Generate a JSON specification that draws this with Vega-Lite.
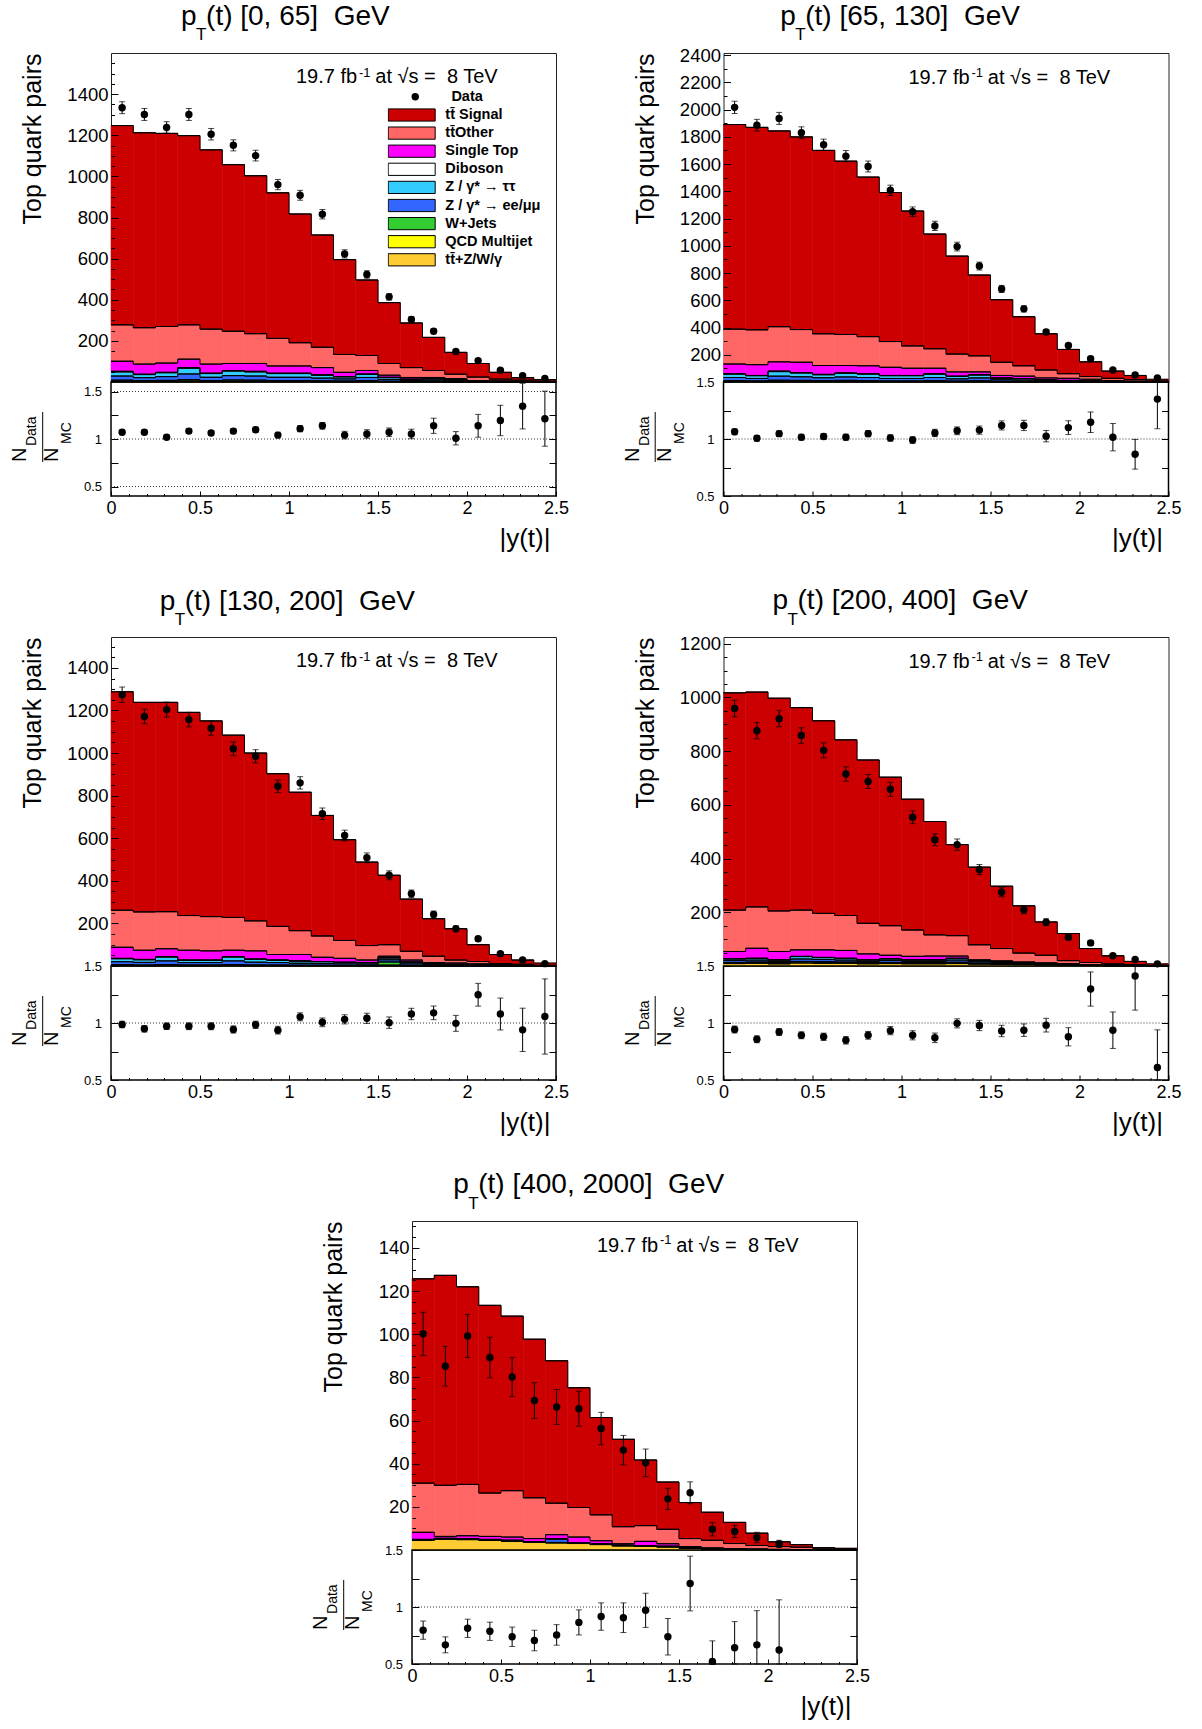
{
"$schema": "https://vega.github.io/schema/vega-lite/v6.json",
"background": "white",
"padding": {"left": 9, "top": 2, "right": 5, "bottom": 3},
"config": {
 "font": "Liberation Sans",
 "view": {"stroke": "#222", "strokeWidth": 1},
 "axis": {"domain": false, "grid": false, "tickColor": "black", "labelColor": "black", "titleColor": "black", "titleFontWeight": "normal", "tickWidth": 1, "tickCount": 100},
 "legend": {"labelColor": "black"},
 "text": {"color": "black"}
},
"datasets": {
 "p1": [
{"c":0.0625,"s":969,"o":177,"st":49,"db":3,"zt":20,"zl":20,"w":5,"q":2,"v":2,"d":1334,"de":29,"r":1.071,"re":0.025},
{"c":0.1875,"s":948,"o":177,"st":49,"db":2,"zt":15,"zl":14,"w":4,"q":1,"v":2,"d":1301,"de":29,"r":1.071,"re":0.025},
{"c":0.3125,"s":939,"o":178,"st":45,"db":2,"zt":19,"zl":18,"w":5,"q":1,"v":2,"d":1238,"de":28,"r":1.019,"re":0.025},
{"c":0.4375,"s":920,"o":167,"st":41,"db":3,"zt":28,"zl":27,"w":7,"q":2,"v":3,"d":1301,"de":29,"r":1.083,"re":0.025},
{"c":0.5625,"s":872,"o":170,"st":44,"db":2,"zt":18,"zl":16,"w":4,"q":1,"v":2,"d":1205,"de":28,"r":1.064,"re":0.025},
{"c":0.6875,"s":810,"o":157,"st":34,"db":3,"zt":22,"zl":21,"w":6,"q":2,"v":2,"d":1151,"de":27,"r":1.083,"re":0.027},
{"c":0.8125,"s":768,"o":145,"st":38,"db":3,"zt":20,"zl":20,"w":5,"q":2,"v":2,"d":1101,"de":26,"r":1.098,"re":0.028},
{"c":0.9375,"s":708,"o":134,"st":35,"db":2,"zt":18,"zl":16,"w":4,"q":1,"v":2,"d":960,"de":25,"r":1.041,"re":0.03},
{"c":1.0625,"s":626,"o":113,"st":35,"db":2,"zt":18,"zl":16,"w":4,"q":1,"v":2,"d":908,"de":24,"r":1.109,"re":0.032},
{"c":1.1875,"s":546,"o":99,"st":35,"db":2,"zt":14,"zl":13,"w":4,"q":1,"v":1,"d":816,"de":23,"r":1.139,"re":0.035},
{"c":1.3125,"s":461,"o":87,"st":21,"db":1,"zt":10,"zl":10,"w":3,"q":1,"v":1,"d":623,"de":20,"r":1.041,"re":0.04},
{"c":1.4375,"s":367,"o":73,"st":17,"db":2,"zt":15,"zl":15,"w":4,"q":1,"v":2,"d":523,"de":18,"r":1.053,"re":0.045},
{"c":1.5625,"s":296,"o":57,"st":10,"db":1,"zt":9,"zl":9,"w":2,"q":1,"v":1,"d":414,"de":16,"r":1.071,"re":0.045},
{"c":1.6875,"s":217,"o":48,"st":8,"db":1,"zt":6,"zl":5,"w":1,"q":0,"v":1,"d":304,"de":14,"r":1.053,"re":0.05},
{"c":1.8125,"s":161,"o":34,"st":6,"db":1,"zt":6,"zl":6,"w":2,"q":0,"v":1,"d":247,"de":12,"r":1.139,"re":0.08},
{"c":1.9375,"s":106,"o":21,"st":5,"db":1,"zt":5,"zl":5,"w":1,"q":0,"v":0,"d":148,"de":10,"r":1.008,"re":0.07},
{"c":2.0625,"s":66,"o":17,"st":2,"db":0,"zt":2,"zl":2,"w":1,"q":0,"v":0,"d":104,"de":8,"r":1.139,"re":0.12},
{"c":2.1875,"s":33,"o":9,"st":2,"db":0,"zt":2,"zl":1,"w":0,"q":0,"v":0,"d":57,"de":6,"r":1.195,"re":0.16},
{"c":2.3125,"s":12,"o":6,"st":1,"db":0,"zt":1,"zl":1,"w":0,"q":0,"v":0,"d":31,"de":5,"r":1.346,"re":0.24},
{"c":2.4375,"s":7,"o":3,"st":1,"db":0,"zt":1,"zl":0,"w":0,"q":0,"v":0,"d":17,"de":4,"r":1.214,"re":0.29}
 ],
 "p2": [
{"c":0.0625,"s":1502,"o":256,"st":71,"db":3,"zt":25,"zl":23,"w":6,"q":2,"v":2,"d":2016,"de":45,"r":1.063,"re":0.025},
{"c":0.1875,"s":1486,"o":256,"st":79,"db":2,"zt":20,"zl":18,"w":5,"q":1,"v":2,"d":1885,"de":43,"r":1.006,"re":0.025},
{"c":0.3125,"s":1437,"o":258,"st":68,"db":4,"zt":33,"zl":30,"w":8,"q":2,"v":3,"d":1935,"de":44,"r":1.047,"re":0.025},
{"c":0.4375,"s":1414,"o":240,"st":76,"db":3,"zt":28,"zl":26,"w":7,"q":2,"v":3,"d":1830,"de":43,"r":1.016,"re":0.025},
{"c":0.5625,"s":1346,"o":233,"st":65,"db":3,"zt":22,"zl":21,"w":6,"q":2,"v":2,"d":1741,"de":42,"r":1.022,"re":0.025},
{"c":0.6875,"s":1272,"o":228,"st":54,"db":3,"zt":27,"zl":25,"w":7,"q":2,"v":3,"d":1658,"de":41,"r":1.016,"re":0.026},
{"c":0.8125,"s":1171,"o":214,"st":58,"db":3,"zt":25,"zl":23,"w":6,"q":2,"v":2,"d":1582,"de":40,"r":1.047,"re":0.027},
{"c":0.9375,"s":1094,"o":189,"st":60,"db":2,"zt":20,"zl":18,"w":5,"q":1,"v":2,"d":1407,"de":38,"r":1.009,"re":0.028},
{"c":1.0625,"s":990,"o":164,"st":53,"db":2,"zt":20,"zl":18,"w":5,"q":1,"v":2,"d":1250,"de":35,"r":0.991,"re":0.029},
{"c":1.1875,"s":842,"o":143,"st":40,"db":3,"zt":25,"zl":23,"w":6,"q":2,"v":2,"d":1146,"de":34,"r":1.053,"re":0.032},
{"c":1.3125,"s":719,"o":131,"st":31,"db":2,"zt":18,"zl":16,"w":4,"q":1,"v":2,"d":994,"de":32,"r":1.072,"re":0.034},
{"c":1.4375,"s":593,"o":118,"st":20,"db":3,"zt":21,"zl":21,"w":5,"q":2,"v":2,"d":851,"de":29,"r":1.078,"re":0.036},
{"c":1.5625,"s":459,"o":97,"st":18,"db":2,"zt":12,"zl":11,"w":3,"q":1,"v":1,"d":683,"de":26,"r":1.119,"re":0.04},
{"c":1.6875,"s":360,"o":76,"st":18,"db":1,"zt":10,"zl":9,"w":3,"q":1,"v":1,"d":537,"de":23,"r":1.119,"re":0.045},
{"c":1.8125,"s":266,"o":58,"st":12,"db":1,"zt":6,"zl":7,"w":2,"q":1,"v":1,"d":367,"de":19,"r":1.025,"re":0.05},
{"c":1.9375,"s":178,"o":34,"st":15,"db":1,"zt":5,"zl":5,"w":1,"q":0,"v":0,"d":268,"de":16,"r":1.1,"re":0.06},
{"c":2.0625,"s":108,"o":20,"st":12,"db":0,"zt":4,"zl":3,"w":1,"q":0,"v":0,"d":171,"de":13,"r":1.147,"re":0.09},
{"c":2.1875,"s":53,"o":17,"st":5,"db":0,"zt":2,"zl":2,"w":1,"q":0,"v":0,"d":88,"de":9,"r":1.016,"re":0.12},
{"c":2.3125,"s":31,"o":11,"st":3,"db":0,"zt":2,"zl":1,"w":0,"q":0,"v":0,"d":51,"de":7,"r":0.866,"re":0.13},
{"c":2.4375,"s":11,"o":6,"st":1,"db":0,"zt":1,"zl":1,"w":0,"q":0,"v":0,"d":30,"de":5,"r":1.35,"re":0.26}
 ],
 "p3": [
{"c":0.0625,"s":1026,"o":174,"st":52,"db":2,"zt":14,"zl":13,"w":4,"q":1,"v":2,"d":1274,"de":36,"r":0.987,"re":0.028},
{"c":0.1875,"s":984,"o":180,"st":43,"db":2,"zt":12,"zl":12,"w":3,"q":1,"v":1,"d":1172,"de":34,"r":0.949,"re":0.028},
{"c":0.3125,"s":983,"o":174,"st":37,"db":2,"zt":18,"zl":17,"w":4,"q":1,"v":2,"d":1204,"de":35,"r":0.971,"re":0.028},
{"c":0.4375,"s":954,"o":163,"st":46,"db":1,"zt":11,"zl":11,"w":3,"q":1,"v":1,"d":1157,"de":34,"r":0.971,"re":0.029},
{"c":0.5625,"s":919,"o":161,"st":43,"db":1,"zt":11,"zl":11,"w":3,"q":1,"v":1,"d":1117,"de":33,"r":0.971,"re":0.03},
{"c":0.6875,"s":856,"o":154,"st":30,"db":2,"zt":18,"zl":17,"w":4,"q":1,"v":2,"d":1020,"de":32,"r":0.943,"re":0.031},
{"c":0.8125,"s":788,"o":141,"st":38,"db":2,"zt":13,"zl":13,"w":3,"q":1,"v":1,"d":985,"de":31,"r":0.984,"re":0.032},
{"c":0.9375,"s":717,"o":132,"st":26,"db":1,"zt":11,"zl":11,"w":3,"q":1,"v":1,"d":844,"de":29,"r":0.937,"re":0.034},
{"c":1.0625,"s":650,"o":112,"st":30,"db":1,"zt":10,"zl":9,"w":2,"q":1,"v":1,"d":860,"de":29,"r":1.054,"re":0.035},
{"c":1.1875,"s":566,"o":100,"st":20,"db":1,"zt":8,"zl":8,"w":2,"q":1,"v":1,"d":715,"de":27,"r":1.006,"re":0.038},
{"c":1.3125,"s":473,"o":84,"st":18,"db":1,"zt":7,"zl":7,"w":2,"q":0,"v":1,"d":613,"de":25,"r":1.032,"re":0.04},
{"c":1.4375,"s":392,"o":68,"st":12,"db":1,"zt":6,"zl":6,"w":2,"q":0,"v":1,"d":508,"de":23,"r":1.041,"re":0.045},
{"c":1.5625,"s":326,"o":54,"st":6,"db":3,"zt":8,"zl":10,"w":15,"q":2,"v":2,"d":426,"de":21,"r":1.003,"re":0.05},
{"c":1.6875,"s":245,"o":41,"st":9,"db":1,"zt":8,"zl":7,"w":2,"q":0,"v":1,"d":339,"de":18,"r":1.079,"re":0.05},
{"c":1.8125,"s":176,"o":30,"st":4,"db":1,"zt":5,"zl":5,"w":1,"q":0,"v":0,"d":242,"de":16,"r":1.089,"re":0.06},
{"c":1.9375,"s":147,"o":14,"st":6,"db":0,"zt":4,"zl":3,"w":1,"q":0,"v":0,"d":175,"de":13,"r":0.997,"re":0.07},
{"c":2.0625,"s":79,"o":11,"st":4,"db":0,"zt":3,"zl":2,"w":1,"q":0,"v":0,"d":128,"de":11,"r":1.248,"re":0.1},
{"c":2.1875,"s":43,"o":5,"st":2,"db":0,"zt":2,"zl":2,"w":0,"q":0,"v":0,"d":58,"de":8,"r":1.079,"re":0.14},
{"c":2.3125,"s":20,"o":4,"st":2,"db":0,"zt":1,"zl":1,"w":0,"q":0,"v":0,"d":28,"de":5,"r":0.94,"re":0.19},
{"c":2.4375,"s":10,"o":2,"st":1,"db":0,"zt":1,"zl":0,"w":0,"q":0,"v":0,"d":11,"de":3,"r":1.057,"re":0.33}
 ],
 "p4": [
{"c":0.0625,"s":809,"o":154,"st":27,"db":1,"zt":6,"zl":7,"w":1,"q":3,"v":9,"d":959,"de":31,"r":0.943,"re":0.03},
{"c":0.1875,"s":800,"o":154,"st":37,"db":1,"zt":6,"zl":7,"w":2,"q":3,"v":10,"d":876,"de":30,"r":0.857,"re":0.03},
{"c":0.3125,"s":792,"o":151,"st":31,"db":1,"zt":5,"zl":5,"w":1,"q":3,"v":8,"d":921,"de":30,"r":0.921,"re":0.03},
{"c":0.4375,"s":754,"o":148,"st":24,"db":1,"zt":9,"zl":9,"w":2,"q":4,"v":11,"d":858,"de":29,"r":0.892,"re":0.03},
{"c":0.5625,"s":717,"o":136,"st":28,"db":1,"zt":7,"zl":8,"w":2,"q":4,"v":10,"d":803,"de":28,"r":0.879,"re":0.032},
{"c":0.6875,"s":654,"o":130,"st":29,"db":1,"zt":6,"zl":7,"w":2,"q":3,"v":10,"d":715,"de":27,"r":0.848,"re":0.033},
{"c":0.8125,"s":608,"o":114,"st":22,"db":1,"zt":5,"zl":5,"w":1,"q":3,"v":8,"d":687,"de":26,"r":0.892,"re":0.034},
{"c":0.9375,"s":553,"o":110,"st":13,"db":1,"zt":6,"zl":7,"w":1,"q":3,"v":9,"d":658,"de":26,"r":0.933,"re":0.036},
{"c":1.0625,"s":487,"o":98,"st":13,"db":1,"zt":5,"zl":5,"w":1,"q":3,"v":8,"d":554,"de":24,"r":0.892,"re":0.04},
{"c":1.1875,"s":422,"o":79,"st":14,"db":1,"zt":5,"zl":5,"w":1,"q":3,"v":8,"d":470,"de":22,"r":0.87,"re":0.042},
{"c":1.3125,"s":339,"o":76,"st":8,"db":1,"zt":6,"zl":8,"w":2,"q":3,"v":9,"d":452,"de":21,"r":0.997,"re":0.04},
{"c":1.4375,"s":289,"o":56,"st":3,"db":1,"zt":4,"zl":5,"w":1,"q":2,"v":7,"d":359,"de":19,"r":0.978,"re":0.045},
{"c":1.5625,"s":232,"o":46,"st":2,"db":1,"zt":3,"zl":4,"w":1,"q":2,"v":6,"d":275,"de":17,"r":0.93,"re":0.05},
{"c":1.6875,"s":176,"o":33,"st":2,"db":0,"zt":3,"zl":3,"w":1,"q":1,"v":5,"d":209,"de":14,"r":0.937,"re":0.055},
{"c":1.8125,"s":124,"o":29,"st":1,"db":0,"zt":2,"zl":2,"w":1,"q":1,"v":4,"d":163,"de":13,"r":0.981,"re":0.06},
{"c":1.9375,"s":101,"o":12,"st":0,"db":0,"zt":1,"zl":2,"w":1,"q":1,"v":3,"d":107,"de":10,"r":0.879,"re":0.08},
{"c":2.0625,"s":52,"o":8,"st":0,"db":0,"zt":1,"zl":1,"w":1,"q":0,"v":2,"d":86,"de":9,"r":1.298,"re":0.15},
{"c":2.1875,"s":30,"o":5,"st":0,"db":0,"zt":1,"zl":1,"w":0,"q":0,"v":1,"d":38,"de":6,"r":0.937,"re":0.16},
{"c":2.3125,"s":12,"o":3,"st":0,"db":0,"zt":0,"zl":1,"w":0,"q":0,"v":1,"d":24,"de":5,"r":1.413,"re":0.3},
{"c":2.4375,"s":5,"o":2,"st":0,"db":0,"zt":0,"zl":0,"w":0,"q":0,"v":1,"d":8,"de":3,"r":0.61,"re":0.33}
 ],
 "p5": [
{"c":0.0625,"s":94.7,"o":22.8,"st":3.3,"db":0,"zt":0.1,"zl":0.1,"w":0.1,"q":0.1,"v":4.5,"d":100.2,"de":10,"r":0.797,"re":0.08},
{"c":0.1875,"s":97.3,"o":23.7,"st":0.9,"db":0,"zt":0.1,"zl":0.1,"w":0.1,"q":0.1,"v":5.0,"d":85.2,"de":9.2,"r":0.668,"re":0.07},
{"c":0.3125,"s":91.6,"o":23.8,"st":1.4,"db":0,"zt":0.1,"zl":0.1,"w":0.1,"q":0.1,"v":4.8,"d":99.2,"de":10,"r":0.813,"re":0.08},
{"c":0.4375,"s":87.0,"o":20.1,"st":1.4,"db":0,"zt":0.1,"zl":0.1,"w":0.1,"q":0.1,"v":4.5,"d":89.2,"de":9.4,"r":0.787,"re":0.08},
{"c":0.5625,"s":80.9,"o":21.5,"st":1.5,"db":0,"zt":0.1,"zl":0.1,"w":0.1,"q":0.1,"v":4.1,"d":80.2,"de":9,"r":0.739,"re":0.085},
{"c":0.6875,"s":73.5,"o":18.9,"st":1.4,"db":0,"zt":0.1,"zl":0.1,"w":0.1,"q":0.1,"v":3.5,"d":69.3,"de":8.3,"r":0.706,"re":0.09},
{"c":0.8125,"s":66.0,"o":14.6,"st":1.8,"db":0,"zt":0.3,"zl":1.5,"w":0.1,"q":0.1,"v":3.3,"d":66.3,"de":8.1,"r":0.755,"re":0.09},
{"c":0.9375,"s":55.5,"o":13.7,"st":2.6,"db":0,"zt":0.1,"zl":0.1,"w":0.1,"q":0.1,"v":3.0,"d":65.5,"de":8.1,"r":0.865,"re":0.11},
{"c":1.0625,"s":45.1,"o":12.0,"st":1.4,"db":0,"zt":0.1,"zl":0.1,"w":0.1,"q":0.1,"v":2.5,"d":56.3,"de":7.5,"r":0.916,"re":0.12},
{"c":1.1875,"s":40.5,"o":7.9,"st":0.7,"db":0,"zt":0,"zl":0.1,"w":0.1,"q":0.1,"v":1.9,"d":46.3,"de":6.8,"r":0.906,"re":0.13},
{"c":1.3125,"s":30.4,"o":7.3,"st":2.0,"db":0,"zt":0,"zl":0.1,"w":0.1,"q":0.1,"v":1.7,"d":40.4,"de":6.4,"r":0.971,"re":0.15},
{"c":1.4375,"s":21.9,"o":6.7,"st":1.2,"db":0,"zt":0,"zl":0.1,"w":0.1,"q":0.1,"v":1.4,"d":23.7,"de":4.9,"r":0.739,"re":0.16},
{"c":1.5625,"s":16.7,"o":3.7,"st":0.6,"db":0,"zt":0,"zl":0.1,"w":0,"q":0.1,"v":0.8,"d":26.5,"de":5.1,"r":1.206,"re":0.24},
{"c":1.6875,"s":13.0,"o":3.5,"st":0.4,"db":0,"zt":0,"zl":0.1,"w":0,"q":0,"v":0.5,"d":9.6,"de":3.1,"r":0.523,"re":0.18},
{"c":1.8125,"s":9.8,"o":2.4,"st":0.2,"db":0,"zt":0,"zl":0.1,"w":0,"q":0,"v":0.3,"d":8.6,"de":2.9,"r":0.642,"re":0.23},
{"c":1.9375,"s":5.7,"o":1.7,"st":0.1,"db":0,"zt":0,"zl":0.1,"w":0,"q":0,"v":0.2,"d":5.8,"de":2.4,"r":0.668,"re":0.3},
{"c":2.0625,"s":2.2,"o":1.3,"st":0.1,"db":0,"zt":0,"zl":0.1,"w":0,"q":0,"v":0.1,"d":2.8,"de":1.7,"r":0.623,"re":0.44},
{"c":2.1875,"s":1.2,"o":1.1,"st":0.1,"db":0,"zt":0,"zl":0,"w":0,"q":0,"v":0.1},
{"c":2.3125,"s":0.2,"o":0.8,"st":0.05,"db":0,"zt":0,"zl":0,"w":0,"q":0,"v":0.05},
{"c":2.4375,"s":0.2,"o":0.55,"st":0.05,"db":0,"zt":0,"zl":0,"w":0,"q":0,"v":0}
 ]
},
"spacing": 34,
"resolve": {"scale": {"color": "independent", "shape": "independent", "stroke": "independent"}},
"vconcat": [
{
 "hconcat": [
  {
   "vconcat": [
    {
     "width": 445, "height": 329,
     "resolve": {"axis": {"y": "independent"}},
     "layer": [
      {
       "data": {"name": "p1"},
       "transform": [
        {"fold": ["v","q","w","zl","zt","db","st","o","s"], "as": ["key","val"]},
        {"bin": {"step": 0.125, "extent": [0, 2.5], "nice": false}, "field": "c", "as": ["b0","b1"]},
        {"stack": "val", "groupby": ["c"], "as": ["y0","y1"]}
       ],
       "layer": [
        {"mark": {"type": "rect", "strokeWidth": 0.6},
         "encoding": {
          "x": {"field": "b0", "type": "quantitative", "scale": {"domain": [0, 2.5], "nice": false, "zero": false}, "axis": null},
          "x2": {"field": "b1"},
          "y": {"field": "y0", "type": "quantitative", "scale": {"domain": [0, 1600], "nice": false, "zero": false},
                "axis": {"values": [200,400,600,800,1000,1200,1400], "tickCount": 100, "labelExpr": "format(datum.value, 'd')", "labelFontSize": 18.5, "labelPadding": 10, "labelOverlap": false, "tickSize": -7, "zindex": 1, "title": "Top quark pairs", "titleFontSize": 25, "titleAngle": 270, "titleAlign": "right", "titleBaseline": "alphabetic", "titleX": -71, "titleY": 0}},
          "y2": {"field": "y1"},
          "color": {"field": "key", "type": "nominal",
                    "scale": {"domain": ["s","o","st","db","zt","zl","w","q","v"], "range": ["#cc0000","#ff6666","#ff00ff","#ffffff","#33ccff","#3366ff","#33cc33","#ffff00","#ffcc33"]},
                    "legend": {"orient": "none", "legendX": 276.7, "legendY": 54, "direction": "vertical", "title": null, "padding": 0, "symbolType": "M-1,-0.26H1V0.26H-1Z", "symbolSize": 2209, "symbolStrokeColor": "black", "symbolStrokeWidth": 1, "clipHeight": 16, "rowPadding": 2.1, "labelFontSize": 14.5, "labelFontWeight": "bold", "labelOffset": 9.6, "labelLimit": 300,
                               "labelExpr": "datum.value == 's' ? 'tt\u0304 Signal' : datum.value == 'o' ? 'tt\u0304Other' : datum.value == 'st' ? 'Single Top' : datum.value == 'db' ? 'Diboson' : datum.value == 'zt' ? 'Z / γ* → ττ' : datum.value == 'zl' ? 'Z / γ* → ee/μμ' : datum.value == 'w' ? 'W+Jets' : datum.value == 'q' ? 'QCD Multijet' : 'tt\u0304+Z/W/γ'"}},
          "stroke": {"field": "key", "type": "nominal", "scale": {"domain": ["s","o","st","db","zt","zl","w","q","v","none"], "range": ["#cc0000","#ff6666","#ff00ff","#ffffff","#33ccff","#3366ff","#33cc33","#ffff00","#ffcc33","#000000"]}, "legend": null}
         }},
        {"mark": {"type": "line", "interpolate": "step-after", "color": "black", "strokeWidth": 1},
         "encoding": {"x": {"field": "b0", "type": "quantitative"}, "y": {"field": "y1", "type": "quantitative"}, "detail": {"field": "key"}}},
        {"mark": {"type": "rule", "color": "black", "strokeWidth": 1},
         "encoding": {"x": {"field": "b0", "type": "quantitative"}, "x2": {"field": "b1"}, "y": {"field": "y1", "type": "quantitative"}}}
       ]
      },
      {
       "data": {"name": "p1"},
       "transform": [{"filter": "isValid(datum.d)"}],
       "layer": [
        {"mark": {"type": "errorbar", "color": "black", "ticks": {"size": 6}},
         "encoding": {"x": {"field": "c", "type": "quantitative"}, "y": {"field": "d", "type": "quantitative"}, "yError": {"field": "de"}}},
        {"mark": {"type": "point", "filled": true, "color": "black", "size": 55, "opacity": 1},
         "encoding": {"x": {"field": "c", "type": "quantitative"},
                      "y": {"field": "d", "type": "quantitative", "axis": {"orient": "left", "values": [50,100,150,250,300,350,450,500,550,650,700,750,850,900,950,1050,1100,1150,1250,1300,1350,1450,1500,1550], "tickCount": 100, "labels": false, "tickSize": -3.5, "zindex": 1, "title": null}},
                      "shape": {"datum": "Data", "type": "nominal", "scale": {"range": ["circle"]},
                                "legend": {"orient": "none", "legendX": 297, "legendY": 35.8, "direction": "vertical", "title": null, "padding": 0, "symbolSize": 55, "symbolType": "circle", "symbolFillColor": "black", "clipHeight": 16, "labelFontSize": 14.5, "labelFontWeight": "bold", "labelOffset": 28.9}}}}
       ]
      },
      {
       "data": {"values": [{}]},
       "layer": [
        {"mark": {"type": "text", "text": "p", "align": "left", "baseline": "alphabetic", "fontSize": 28}, "encoding": {"x": {"datum": 0.393, "type": "quantitative"}, "y": {"datum": 1733.8, "type": "quantitative", "axis": null}}},
        {"mark": {"type": "text", "text": "T", "align": "left", "baseline": "alphabetic", "fontSize": 17}, "encoding": {"x": {"datum": 0.478, "type": "quantitative"}, "y": {"datum": 1660.8, "type": "quantitative", "axis": null}}},
        {"mark": {"type": "text", "text": "(t) [0, 65] \u00a0GeV", "align": "left", "baseline": "alphabetic", "fontSize": 28}, "encoding": {"x": {"datum": 0.534, "type": "quantitative"}, "y": {"datum": 1733.8, "type": "quantitative", "axis": null}}},
        {"mark": {"type": "text", "text": "19.7 fb", "align": "left", "baseline": "alphabetic", "fontSize": 20}, "encoding": {"x": {"datum": 1.039, "type": "quantitative"}, "y": {"datum": 1451.7, "type": "quantitative", "axis": null}}},
        {"mark": {"type": "text", "text": "-1", "align": "left", "baseline": "alphabetic", "fontSize": 13}, "encoding": {"x": {"datum": 1.393, "type": "quantitative"}, "y": {"datum": 1485.7, "type": "quantitative", "axis": null}}},
        {"mark": {"type": "text", "text": "at √s = \u00a08 TeV", "align": "left", "baseline": "alphabetic", "fontSize": 20}, "encoding": {"x": {"datum": 1.485, "type": "quantitative"}, "y": {"datum": 1451.7, "type": "quantitative", "axis": null}}}
       ]
      }
     ]
    },
    {
     "width": 445, "height": 114,
     "view": {"stroke": "black", "strokeWidth": 1.5},
     "resolve": {"axis": {"y": "independent", "x": "independent"}},
     "layer": [
      {"data": {"values": [{}]},
       "layer": [
        {"mark": {"type": "rule", "strokeDash": [1, 2], "color": "#333", "strokeWidth": 1}, "encoding": {"y": {"datum": 1, "type": "quantitative", "axis": {"orient": "right", "values": [0.5,0.75,1,1.25,1.5], "tickCount": 100, "labels": false, "tickSize": -7, "zindex": 1, "title": null}}}},
        {"mark": {"type": "rule", "strokeDash": [1, 2], "color": "#333", "strokeWidth": 1}, "encoding": {"y": {"datum": 0.5, "type": "quantitative"}}},
        {"mark": {"type": "rule", "strokeDash": [1, 2], "color": "#333", "strokeWidth": 1}, "encoding": {"y": {"datum": 1.5, "type": "quantitative"}}}
       ]},
      {"data": {"name": "p1"},
       "transform": [{"filter": "isValid(datum.r)"}],
       "layer": [
        {"mark": {"type": "errorbar", "color": "black", "ticks": {"size": 6}},
         "encoding": {"x": {"field": "c", "type": "quantitative"}, "y": {"field": "r", "type": "quantitative"}, "yError": {"field": "re"}}},
        {"mark": {"type": "point", "filled": true, "color": "black", "size": 55, "opacity": 1},
         "encoding": {
          "x": {"field": "c", "type": "quantitative", "scale": {"domain": [0, 2.5], "nice": false, "zero": false},
                "axis": {"values": [0,0.5,1,1.5,2,2.5], "tickCount": 100, "labelExpr": "format(datum.value, '~g')", "labelFlush": false, "labelOverlap": false, "labelFontSize": 18, "labelPadding": 8, "tickSize": -5, "zindex": 1, "title": "|y(t)|", "titleFontSize": 26, "titleAlign": "right", "titleBaseline": "alphabetic", "titleX": 439, "titleY": 50}},
          "y": {"field": "r", "type": "quantitative", "scale": {"domain": [0.4, 1.6], "nice": false, "zero": false, "clamp": true},
                "axis": {"orient": "left", "values": [0.5,0.75,1,1.25,1.5], "tickCount": 100, "format": "~g", "labelExpr": "datum.value == 0.75 || datum.value == 1.25 ? '' : datum.label", "labelFontSize": 13, "labelPadding": 16.5, "labelOverlap": false, "tickSize": -7, "zindex": 1, "title": null}}
         }}
       ]},
      {"data": {"values": [{}]},
       "layer": [
        {"mark": {"type": "text", "text": "N", "angle": 270, "align": "left", "baseline": "alphabetic", "fontSize": 20}, "encoding": {"x": {"datum": -0.4775, "type": "quantitative", "axis": {"orient": "bottom", "values": [0.1,0.2,0.3,0.4,0.6,0.7,0.8,0.9,1.1,1.2,1.3,1.4,1.6,1.7,1.8,1.9,2.1,2.2,2.3,2.4], "tickCount": 100, "labels": false, "tickSize": -2.5, "zindex": 1, "title": null}}, "y": {"datum": 0.758, "type": "quantitative", "axis": null}}},
        {"mark": {"type": "text", "text": "Data", "angle": 270, "align": "left", "baseline": "alphabetic", "fontSize": 14}, "encoding": {"x": {"datum": -0.4213, "type": "quantitative"}, "y": {"datum": 0.926, "type": "quantitative", "axis": null}}},
        {"mark": {"type": "rule", "color": "black", "strokeWidth": 1}, "encoding": {"x": {"datum": -0.3837, "type": "quantitative"}, "y": {"datum": 1.284, "type": "quantitative", "axis": null}, "y2": {"datum": 0.758}}},
        {"mark": {"type": "text", "text": "N", "angle": 270, "align": "left", "baseline": "alphabetic", "fontSize": 20}, "encoding": {"x": {"datum": -0.2961, "type": "quantitative"}, "y": {"datum": 0.758, "type": "quantitative", "axis": null}}},
        {"mark": {"type": "text", "text": "MC", "angle": 270, "align": "left", "baseline": "alphabetic", "fontSize": 14}, "encoding": {"x": {"datum": -0.2247, "type": "quantitative"}, "y": {"datum": 0.947, "type": "quantitative", "axis": null}}}
       ]}
     ]
    }
   ],
   "spacing": 0, "bounds": "flush"
  },
  {
   "vconcat": [
    {
     "width": 445, "height": 329,
     "resolve": {"axis": {"y": "independent"}},
     "layer": [
      {
       "data": {"name": "p2"},
       "transform": [
        {"fold": ["v","q","w","zl","zt","db","st","o","s"], "as": ["key","val"]},
        {"bin": {"step": 0.125, "extent": [0, 2.5], "nice": false}, "field": "c", "as": ["b0","b1"]},
        {"stack": "val", "groupby": ["c"], "as": ["y0","y1"]}
       ],
       "layer": [
        {"mark": {"type": "rect", "strokeWidth": 0.6},
         "encoding": {
          "x": {"field": "b0", "type": "quantitative", "scale": {"domain": [0, 2.5], "nice": false, "zero": false}, "axis": null},
          "x2": {"field": "b1"},
          "y": {"field": "y0", "type": "quantitative", "scale": {"domain": [0, 2415], "nice": false, "zero": false},
                "axis": {"values": [200,400,600,800,1000,1200,1400,1600,1800,2000,2200,2400], "tickCount": 100, "labelExpr": "format(datum.value, 'd')", "labelFontSize": 18.5, "labelPadding": 10, "labelOverlap": false, "tickSize": -7, "zindex": 1, "title": "Top quark pairs", "titleFontSize": 25, "titleAngle": 270, "titleAlign": "right", "titleBaseline": "alphabetic", "titleX": -70, "titleY": 0}},
          "y2": {"field": "y1"},
          "color": {"field": "key", "type": "nominal",
                    "scale": {"domain": ["s","o","st","db","zt","zl","w","q","v"], "range": ["#cc0000","#ff6666","#ff00ff","#ffffff","#33ccff","#3366ff","#33cc33","#ffff00","#ffcc33"]},
                    "legend": null},
          "stroke": {"field": "key", "type": "nominal", "scale": {"domain": ["s","o","st","db","zt","zl","w","q","v"], "range": ["#cc0000","#ff6666","#ff00ff","#ffffff","#33ccff","#3366ff","#33cc33","#ffff00","#ffcc33"]}, "legend": null}
         }},
        {"mark": {"type": "line", "interpolate": "step-after", "color": "black", "strokeWidth": 1},
         "encoding": {"x": {"field": "b0", "type": "quantitative"}, "y": {"field": "y1", "type": "quantitative"}, "detail": {"field": "key"}}},
        {"mark": {"type": "rule", "color": "black", "strokeWidth": 1},
         "encoding": {"x": {"field": "b0", "type": "quantitative"}, "x2": {"field": "b1"}, "y": {"field": "y1", "type": "quantitative"}}}
       ]
      },
      {
       "data": {"name": "p2"},
       "transform": [{"filter": "isValid(datum.d)"}],
       "layer": [
        {"mark": {"type": "errorbar", "color": "black", "ticks": {"size": 6}},
         "encoding": {"x": {"field": "c", "type": "quantitative"}, "y": {"field": "d", "type": "quantitative"}, "yError": {"field": "de"}}},
        {"mark": {"type": "point", "filled": true, "color": "black", "size": 55, "opacity": 1},
         "encoding": {"x": {"field": "c", "type": "quantitative"},
                      "y": {"field": "d", "type": "quantitative", "axis": {"orient": "left", "values": [100,300,500,700,900,1100,1300,1500,1700,1900,2100,2300], "tickCount": 100, "labels": false, "tickSize": -3.5, "zindex": 1, "title": null}}}}
       ]
      },
      {
       "data": {"values": [{}]},
       "layer": [
        {"mark": {"type": "text", "text": "p", "align": "left", "baseline": "alphabetic", "fontSize": 28}, "encoding": {"x": {"datum": 0.319, "type": "quantitative"}, "y": {"datum": 2616.9, "type": "quantitative", "axis": null}}},
        {"mark": {"type": "text", "text": "T", "align": "left", "baseline": "alphabetic", "fontSize": 17}, "encoding": {"x": {"datum": 0.403, "type": "quantitative"}, "y": {"datum": 2506.8, "type": "quantitative", "axis": null}}},
        {"mark": {"type": "text", "text": "(t) [65, 130] \u00a0GeV", "align": "left", "baseline": "alphabetic", "fontSize": 28}, "encoding": {"x": {"datum": 0.459, "type": "quantitative"}, "y": {"datum": 2616.9, "type": "quantitative", "axis": null}}},
        {"mark": {"type": "text", "text": "19.7 fb", "align": "left", "baseline": "alphabetic", "fontSize": 20}, "encoding": {"x": {"datum": 1.039, "type": "quantitative"}, "y": {"datum": 2191.1, "type": "quantitative", "axis": null}}},
        {"mark": {"type": "text", "text": "-1", "align": "left", "baseline": "alphabetic", "fontSize": 13}, "encoding": {"x": {"datum": 1.393, "type": "quantitative"}, "y": {"datum": 2242.5, "type": "quantitative", "axis": null}}},
        {"mark": {"type": "text", "text": "at √s = \u00a08 TeV", "align": "left", "baseline": "alphabetic", "fontSize": 20}, "encoding": {"x": {"datum": 1.485, "type": "quantitative"}, "y": {"datum": 2191.1, "type": "quantitative", "axis": null}}}
       ]
      }
     ]
    },
    {
     "width": 445, "height": 114,
     "view": {"stroke": "black", "strokeWidth": 1.5},
     "resolve": {"axis": {"y": "independent", "x": "independent"}},
     "layer": [
      {"data": {"values": [{}]},
       "layer": [
        {"mark": {"type": "rule", "strokeDash": [1, 2], "color": "#333", "strokeWidth": 1}, "encoding": {"y": {"datum": 1, "type": "quantitative", "axis": {"orient": "right", "values": [0.5,0.75,1,1.25,1.5], "tickCount": 100, "labels": false, "tickSize": -7, "zindex": 1, "title": null}}}}
       ]},
      {"data": {"name": "p2"},
       "transform": [{"filter": "isValid(datum.r)"}],
       "layer": [
        {"mark": {"type": "errorbar", "color": "black", "ticks": {"size": 6}},
         "encoding": {"x": {"field": "c", "type": "quantitative"}, "y": {"field": "r", "type": "quantitative"}, "yError": {"field": "re"}}},
        {"mark": {"type": "point", "filled": true, "color": "black", "size": 55, "opacity": 1},
         "encoding": {
          "x": {"field": "c", "type": "quantitative", "scale": {"domain": [0, 2.5], "nice": false, "zero": false},
                "axis": {"values": [0,0.5,1,1.5,2,2.5], "tickCount": 100, "labelExpr": "format(datum.value, '~g')", "labelFlush": false, "labelOverlap": false, "labelFontSize": 18, "labelPadding": 8, "tickSize": -5, "zindex": 1, "title": "|y(t)|", "titleFontSize": 26, "titleAlign": "right", "titleBaseline": "alphabetic", "titleX": 439, "titleY": 50}},
          "y": {"field": "r", "type": "quantitative", "scale": {"domain": [0.5, 1.5], "nice": false, "zero": false, "clamp": true},
                "axis": {"orient": "left", "values": [0.5,0.75,1,1.25,1.5], "tickCount": 100, "format": "~g", "labelExpr": "datum.value == 0.75 || datum.value == 1.25 ? '' : datum.label", "labelFontSize": 13, "labelPadding": 16.5, "labelOverlap": false, "tickSize": -7, "zindex": 1, "title": null}}
         }}
       ]},
      {"data": {"values": [{}]},
       "layer": [
        {"mark": {"type": "text", "text": "N", "angle": 270, "align": "left", "baseline": "alphabetic", "fontSize": 20}, "encoding": {"x": {"datum": -0.4775, "type": "quantitative", "axis": {"orient": "bottom", "values": [0.1,0.2,0.3,0.4,0.6,0.7,0.8,0.9,1.1,1.2,1.3,1.4,1.6,1.7,1.8,1.9,2.1,2.2,2.3,2.4], "tickCount": 100, "labels": false, "tickSize": -2.5, "zindex": 1, "title": null}}, "y": {"datum": 0.798, "type": "quantitative", "axis": null}}},
        {"mark": {"type": "text", "text": "Data", "angle": 270, "align": "left", "baseline": "alphabetic", "fontSize": 14}, "encoding": {"x": {"datum": -0.4213, "type": "quantitative"}, "y": {"datum": 0.939, "type": "quantitative", "axis": null}}},
        {"mark": {"type": "rule", "color": "black", "strokeWidth": 1}, "encoding": {"x": {"datum": -0.3837, "type": "quantitative"}, "y": {"datum": 1.237, "type": "quantitative", "axis": null}, "y2": {"datum": 0.798}}},
        {"mark": {"type": "text", "text": "N", "angle": 270, "align": "left", "baseline": "alphabetic", "fontSize": 20}, "encoding": {"x": {"datum": -0.2961, "type": "quantitative"}, "y": {"datum": 0.798, "type": "quantitative", "axis": null}}},
        {"mark": {"type": "text", "text": "MC", "angle": 270, "align": "left", "baseline": "alphabetic", "fontSize": 14}, "encoding": {"x": {"datum": -0.2247, "type": "quantitative"}, "y": {"datum": 0.956, "type": "quantitative", "axis": null}}}
       ]}
     ]
    }
   ],
   "spacing": 0, "bounds": "flush"
  }
 ],
 "spacing": 51.5,
 "resolve": {"scale": {"color": "independent", "shape": "independent", "stroke": "independent"}}
},
{
 "hconcat": [
  {
   "vconcat": [
    {
     "width": 445, "height": 329,
     "resolve": {"axis": {"y": "independent"}},
     "layer": [
      {
       "data": {"name": "p3"},
       "transform": [
        {"fold": ["v","q","w","zl","zt","db","st","o","s"], "as": ["key","val"]},
        {"bin": {"step": 0.125, "extent": [0, 2.5], "nice": false}, "field": "c", "as": ["b0","b1"]},
        {"stack": "val", "groupby": ["c"], "as": ["y0","y1"]}
       ],
       "layer": [
        {"mark": {"type": "rect", "strokeWidth": 0.6},
         "encoding": {
          "x": {"field": "b0", "type": "quantitative", "scale": {"domain": [0, 2.5], "nice": false, "zero": false}, "axis": null},
          "x2": {"field": "b1"},
          "y": {"field": "y0", "type": "quantitative", "scale": {"domain": [0, 1545], "nice": false, "zero": false},
                "axis": {"values": [200,400,600,800,1000,1200,1400], "tickCount": 100, "labelExpr": "format(datum.value, 'd')", "labelFontSize": 18.5, "labelPadding": 10, "labelOverlap": false, "tickSize": -7, "zindex": 1, "title": "Top quark pairs", "titleFontSize": 25, "titleAngle": 270, "titleAlign": "right", "titleBaseline": "alphabetic", "titleX": -71, "titleY": 0}},
          "y2": {"field": "y1"},
          "color": {"field": "key", "type": "nominal",
                    "scale": {"domain": ["s","o","st","db","zt","zl","w","q","v"], "range": ["#cc0000","#ff6666","#ff00ff","#ffffff","#33ccff","#3366ff","#33cc33","#ffff00","#ffcc33"]},
                    "legend": null},
          "stroke": {"field": "key", "type": "nominal", "scale": {"domain": ["s","o","st","db","zt","zl","w","q","v"], "range": ["#cc0000","#ff6666","#ff00ff","#ffffff","#33ccff","#3366ff","#33cc33","#ffff00","#ffcc33"]}, "legend": null}
         }},
        {"mark": {"type": "line", "interpolate": "step-after", "color": "black", "strokeWidth": 1},
         "encoding": {"x": {"field": "b0", "type": "quantitative"}, "y": {"field": "y1", "type": "quantitative"}, "detail": {"field": "key"}}},
        {"mark": {"type": "rule", "color": "black", "strokeWidth": 1},
         "encoding": {"x": {"field": "b0", "type": "quantitative"}, "x2": {"field": "b1"}, "y": {"field": "y1", "type": "quantitative"}}}
       ]
      },
      {
       "data": {"name": "p3"},
       "transform": [{"filter": "isValid(datum.d)"}],
       "layer": [
        {"mark": {"type": "errorbar", "color": "black", "ticks": {"size": 6}},
         "encoding": {"x": {"field": "c", "type": "quantitative"}, "y": {"field": "d", "type": "quantitative"}, "yError": {"field": "de"}}},
        {"mark": {"type": "point", "filled": true, "color": "black", "size": 55, "opacity": 1},
         "encoding": {"x": {"field": "c", "type": "quantitative"},
                      "y": {"field": "d", "type": "quantitative", "axis": {"orient": "left", "values": [50,100,150,250,300,350,450,500,550,650,700,750,850,900,950,1050,1100,1150,1250,1300,1350,1450,1500], "tickCount": 100, "labels": false, "tickSize": -3.5, "zindex": 1, "title": null}}}}
       ]
      },
      {
       "data": {"values": [{}]},
       "layer": [
        {"mark": {"type": "text", "text": "p", "align": "left", "baseline": "alphabetic", "fontSize": 28}, "encoding": {"x": {"datum": 0.274, "type": "quantitative"}, "y": {"datum": 1674.1, "type": "quantitative", "axis": null}}},
        {"mark": {"type": "text", "text": "T", "align": "left", "baseline": "alphabetic", "fontSize": 17}, "encoding": {"x": {"datum": 0.358, "type": "quantitative"}, "y": {"datum": 1603.7, "type": "quantitative", "axis": null}}},
        {"mark": {"type": "text", "text": "(t) [130, 200] \u00a0GeV", "align": "left", "baseline": "alphabetic", "fontSize": 28}, "encoding": {"x": {"datum": 0.414, "type": "quantitative"}, "y": {"datum": 1674.1, "type": "quantitative", "axis": null}}},
        {"mark": {"type": "text", "text": "19.7 fb", "align": "left", "baseline": "alphabetic", "fontSize": 20}, "encoding": {"x": {"datum": 1.039, "type": "quantitative"}, "y": {"datum": 1401.8, "type": "quantitative", "axis": null}}},
        {"mark": {"type": "text", "text": "-1", "align": "left", "baseline": "alphabetic", "fontSize": 13}, "encoding": {"x": {"datum": 1.393, "type": "quantitative"}, "y": {"datum": 1434.6, "type": "quantitative", "axis": null}}},
        {"mark": {"type": "text", "text": "at √s = \u00a08 TeV", "align": "left", "baseline": "alphabetic", "fontSize": 20}, "encoding": {"x": {"datum": 1.485, "type": "quantitative"}, "y": {"datum": 1401.8, "type": "quantitative", "axis": null}}}
       ]
      }
     ]
    },
    {
     "width": 445, "height": 114,
     "view": {"stroke": "black", "strokeWidth": 1.5},
     "resolve": {"axis": {"y": "independent", "x": "independent"}},
     "layer": [
      {"data": {"values": [{}]},
       "layer": [
        {"mark": {"type": "rule", "strokeDash": [1, 2], "color": "#333", "strokeWidth": 1}, "encoding": {"y": {"datum": 1, "type": "quantitative", "axis": {"orient": "right", "values": [0.5,0.75,1,1.25,1.5], "tickCount": 100, "labels": false, "tickSize": -7, "zindex": 1, "title": null}}}}
       ]},
      {"data": {"name": "p3"},
       "transform": [{"filter": "isValid(datum.r)"}],
       "layer": [
        {"mark": {"type": "errorbar", "color": "black", "ticks": {"size": 6}},
         "encoding": {"x": {"field": "c", "type": "quantitative"}, "y": {"field": "r", "type": "quantitative"}, "yError": {"field": "re"}}},
        {"mark": {"type": "point", "filled": true, "color": "black", "size": 55, "opacity": 1},
         "encoding": {
          "x": {"field": "c", "type": "quantitative", "scale": {"domain": [0, 2.5], "nice": false, "zero": false},
                "axis": {"values": [0,0.5,1,1.5,2,2.5], "tickCount": 100, "labelExpr": "format(datum.value, '~g')", "labelFlush": false, "labelOverlap": false, "labelFontSize": 18, "labelPadding": 8, "tickSize": -5, "zindex": 1, "title": "|y(t)|", "titleFontSize": 26, "titleAlign": "right", "titleBaseline": "alphabetic", "titleX": 439, "titleY": 50}},
          "y": {"field": "r", "type": "quantitative", "scale": {"domain": [0.5, 1.5], "nice": false, "zero": false, "clamp": true},
                "axis": {"orient": "left", "values": [0.5,0.75,1,1.25,1.5], "tickCount": 100, "format": "~g", "labelExpr": "datum.value == 0.75 || datum.value == 1.25 ? '' : datum.label", "labelFontSize": 13, "labelPadding": 16.5, "labelOverlap": false, "tickSize": -7, "zindex": 1, "title": null}}
         }}
       ]},
      {"data": {"values": [{}]},
       "layer": [
        {"mark": {"type": "text", "text": "N", "angle": 270, "align": "left", "baseline": "alphabetic", "fontSize": 20}, "encoding": {"x": {"datum": -0.4775, "type": "quantitative", "axis": {"orient": "bottom", "values": [0.1,0.2,0.3,0.4,0.6,0.7,0.8,0.9,1.1,1.2,1.3,1.4,1.6,1.7,1.8,1.9,2.1,2.2,2.3,2.4], "tickCount": 100, "labels": false, "tickSize": -2.5, "zindex": 1, "title": null}}, "y": {"datum": 0.798, "type": "quantitative", "axis": null}}},
        {"mark": {"type": "text", "text": "Data", "angle": 270, "align": "left", "baseline": "alphabetic", "fontSize": 14}, "encoding": {"x": {"datum": -0.4213, "type": "quantitative"}, "y": {"datum": 0.939, "type": "quantitative", "axis": null}}},
        {"mark": {"type": "rule", "color": "black", "strokeWidth": 1}, "encoding": {"x": {"datum": -0.3837, "type": "quantitative"}, "y": {"datum": 1.237, "type": "quantitative", "axis": null}, "y2": {"datum": 0.798}}},
        {"mark": {"type": "text", "text": "N", "angle": 270, "align": "left", "baseline": "alphabetic", "fontSize": 20}, "encoding": {"x": {"datum": -0.2961, "type": "quantitative"}, "y": {"datum": 0.798, "type": "quantitative", "axis": null}}},
        {"mark": {"type": "text", "text": "MC", "angle": 270, "align": "left", "baseline": "alphabetic", "fontSize": 14}, "encoding": {"x": {"datum": -0.2247, "type": "quantitative"}, "y": {"datum": 0.956, "type": "quantitative", "axis": null}}}
       ]}
     ]
    }
   ],
   "spacing": 0, "bounds": "flush"
  },
  {
   "vconcat": [
    {
     "width": 445, "height": 329,
     "resolve": {"axis": {"y": "independent"}},
     "layer": [
      {
       "data": {"name": "p4"},
       "transform": [
        {"fold": ["v","q","w","zl","zt","db","st","o","s"], "as": ["key","val"]},
        {"bin": {"step": 0.125, "extent": [0, 2.5], "nice": false}, "field": "c", "as": ["b0","b1"]},
        {"stack": "val", "groupby": ["c"], "as": ["y0","y1"]}
       ],
       "layer": [
        {"mark": {"type": "rect", "strokeWidth": 0.6},
         "encoding": {
          "x": {"field": "b0", "type": "quantitative", "scale": {"domain": [0, 2.5], "nice": false, "zero": false}, "axis": null},
          "x2": {"field": "b1"},
          "y": {"field": "y0", "type": "quantitative", "scale": {"domain": [0, 1225], "nice": false, "zero": false},
                "axis": {"values": [200,400,600,800,1000,1200], "tickCount": 100, "labelExpr": "format(datum.value, 'd')", "labelFontSize": 18.5, "labelPadding": 10, "labelOverlap": false, "tickSize": -7, "zindex": 1, "title": "Top quark pairs", "titleFontSize": 25, "titleAngle": 270, "titleAlign": "right", "titleBaseline": "alphabetic", "titleX": -70, "titleY": 0}},
          "y2": {"field": "y1"},
          "color": {"field": "key", "type": "nominal",
                    "scale": {"domain": ["s","o","st","db","zt","zl","w","q","v"], "range": ["#cc0000","#ff6666","#ff00ff","#ffffff","#33ccff","#3366ff","#33cc33","#ffff00","#ffcc33"]},
                    "legend": null},
          "stroke": {"field": "key", "type": "nominal", "scale": {"domain": ["s","o","st","db","zt","zl","w","q","v"], "range": ["#cc0000","#ff6666","#ff00ff","#ffffff","#33ccff","#3366ff","#33cc33","#ffff00","#ffcc33"]}, "legend": null}
         }},
        {"mark": {"type": "line", "interpolate": "step-after", "color": "black", "strokeWidth": 1},
         "encoding": {"x": {"field": "b0", "type": "quantitative"}, "y": {"field": "y1", "type": "quantitative"}, "detail": {"field": "key"}}},
        {"mark": {"type": "rule", "color": "black", "strokeWidth": 1},
         "encoding": {"x": {"field": "b0", "type": "quantitative"}, "x2": {"field": "b1"}, "y": {"field": "y1", "type": "quantitative"}}}
       ]
      },
      {
       "data": {"name": "p4"},
       "transform": [{"filter": "isValid(datum.d)"}],
       "layer": [
        {"mark": {"type": "errorbar", "color": "black", "ticks": {"size": 6}},
         "encoding": {"x": {"field": "c", "type": "quantitative"}, "y": {"field": "d", "type": "quantitative"}, "yError": {"field": "de"}}},
        {"mark": {"type": "point", "filled": true, "color": "black", "size": 55, "opacity": 1},
         "encoding": {"x": {"field": "c", "type": "quantitative"},
                      "y": {"field": "d", "type": "quantitative", "axis": {"orient": "left", "values": [50,100,150,250,300,350,450,500,550,650,700,750,850,900,950,1050,1100,1150], "tickCount": 100, "labels": false, "tickSize": -3.5, "zindex": 1, "title": null}}}}
       ]
      },
      {
       "data": {"values": [{}]},
       "layer": [
        {"mark": {"type": "text", "text": "p", "align": "left", "baseline": "alphabetic", "fontSize": 28}, "encoding": {"x": {"datum": 0.275, "type": "quantitative"}, "y": {"datum": 1327.4, "type": "quantitative", "axis": null}}},
        {"mark": {"type": "text", "text": "T", "align": "left", "baseline": "alphabetic", "fontSize": 17}, "encoding": {"x": {"datum": 0.36, "type": "quantitative"}, "y": {"datum": 1271.5, "type": "quantitative", "axis": null}}},
        {"mark": {"type": "text", "text": "(t) [200, 400] \u00a0GeV", "align": "left", "baseline": "alphabetic", "fontSize": 28}, "encoding": {"x": {"datum": 0.416, "type": "quantitative"}, "y": {"datum": 1327.4, "type": "quantitative", "axis": null}}},
        {"mark": {"type": "text", "text": "19.7 fb", "align": "left", "baseline": "alphabetic", "fontSize": 20}, "encoding": {"x": {"datum": 1.039, "type": "quantitative"}, "y": {"datum": 1111.4, "type": "quantitative", "axis": null}}},
        {"mark": {"type": "text", "text": "-1", "align": "left", "baseline": "alphabetic", "fontSize": 13}, "encoding": {"x": {"datum": 1.393, "type": "quantitative"}, "y": {"datum": 1137.5, "type": "quantitative", "axis": null}}},
        {"mark": {"type": "text", "text": "at √s = \u00a08 TeV", "align": "left", "baseline": "alphabetic", "fontSize": 20}, "encoding": {"x": {"datum": 1.485, "type": "quantitative"}, "y": {"datum": 1111.4, "type": "quantitative", "axis": null}}}
       ]
      }
     ]
    },
    {
     "width": 445, "height": 114,
     "view": {"stroke": "black", "strokeWidth": 1.5},
     "resolve": {"axis": {"y": "independent", "x": "independent"}},
     "layer": [
      {"data": {"values": [{}]},
       "layer": [
        {"mark": {"type": "rule", "strokeDash": [1, 2], "color": "#333", "strokeWidth": 1}, "encoding": {"y": {"datum": 1, "type": "quantitative", "axis": {"orient": "right", "values": [0.5,0.75,1,1.25,1.5], "tickCount": 100, "labels": false, "tickSize": -7, "zindex": 1, "title": null}}}}
       ]},
      {"data": {"name": "p4"},
       "transform": [{"filter": "isValid(datum.r)"}],
       "layer": [
        {"mark": {"type": "errorbar", "color": "black", "ticks": {"size": 6}},
         "encoding": {"x": {"field": "c", "type": "quantitative"}, "y": {"field": "r", "type": "quantitative"}, "yError": {"field": "re"}}},
        {"mark": {"type": "point", "filled": true, "color": "black", "size": 55, "opacity": 1},
         "encoding": {
          "x": {"field": "c", "type": "quantitative", "scale": {"domain": [0, 2.5], "nice": false, "zero": false},
                "axis": {"values": [0,0.5,1,1.5,2,2.5], "tickCount": 100, "labelExpr": "format(datum.value, '~g')", "labelFlush": false, "labelOverlap": false, "labelFontSize": 18, "labelPadding": 8, "tickSize": -5, "zindex": 1, "title": "|y(t)|", "titleFontSize": 26, "titleAlign": "right", "titleBaseline": "alphabetic", "titleX": 439, "titleY": 50}},
          "y": {"field": "r", "type": "quantitative", "scale": {"domain": [0.5, 1.5], "nice": false, "zero": false, "clamp": true},
                "axis": {"orient": "left", "values": [0.5,0.75,1,1.25,1.5], "tickCount": 100, "format": "~g", "labelExpr": "datum.value == 0.75 || datum.value == 1.25 ? '' : datum.label", "labelFontSize": 13, "labelPadding": 16.5, "labelOverlap": false, "tickSize": -7, "zindex": 1, "title": null}}
         }}
       ]},
      {"data": {"values": [{}]},
       "layer": [
        {"mark": {"type": "text", "text": "N", "angle": 270, "align": "left", "baseline": "alphabetic", "fontSize": 20}, "encoding": {"x": {"datum": -0.4775, "type": "quantitative", "axis": {"orient": "bottom", "values": [0.1,0.2,0.3,0.4,0.6,0.7,0.8,0.9,1.1,1.2,1.3,1.4,1.6,1.7,1.8,1.9,2.1,2.2,2.3,2.4], "tickCount": 100, "labels": false, "tickSize": -2.5, "zindex": 1, "title": null}}, "y": {"datum": 0.798, "type": "quantitative", "axis": null}}},
        {"mark": {"type": "text", "text": "Data", "angle": 270, "align": "left", "baseline": "alphabetic", "fontSize": 14}, "encoding": {"x": {"datum": -0.4213, "type": "quantitative"}, "y": {"datum": 0.939, "type": "quantitative", "axis": null}}},
        {"mark": {"type": "rule", "color": "black", "strokeWidth": 1}, "encoding": {"x": {"datum": -0.3837, "type": "quantitative"}, "y": {"datum": 1.237, "type": "quantitative", "axis": null}, "y2": {"datum": 0.798}}},
        {"mark": {"type": "text", "text": "N", "angle": 270, "align": "left", "baseline": "alphabetic", "fontSize": 20}, "encoding": {"x": {"datum": -0.2961, "type": "quantitative"}, "y": {"datum": 0.798, "type": "quantitative", "axis": null}}},
        {"mark": {"type": "text", "text": "MC", "angle": 270, "align": "left", "baseline": "alphabetic", "fontSize": 14}, "encoding": {"x": {"datum": -0.2247, "type": "quantitative"}, "y": {"datum": 0.956, "type": "quantitative", "axis": null}}}
       ]}
     ]
    }
   ],
   "spacing": 0, "bounds": "flush"
  }
 ],
 "spacing": 51.5,
 "resolve": {"scale": {"color": "independent", "shape": "independent", "stroke": "independent"}}
},
{
 "hconcat": [
  {"width": 199, "height": 10, "data": {"values": []}, "mark": {"type": "point", "opacity": 0}, "view": {"stroke": null, "fill": "white"}},
  {
   "vconcat": [
    {
     "width": 445, "height": 329,
     "resolve": {"axis": {"y": "independent"}},
     "layer": [
      {
       "data": {"name": "p5"},
       "transform": [
        {"fold": ["v","q","w","zl","zt","db","st","o","s"], "as": ["key","val"]},
        {"bin": {"step": 0.125, "extent": [0, 2.5], "nice": false}, "field": "c", "as": ["b0","b1"]},
        {"stack": "val", "groupby": ["c"], "as": ["y0","y1"]}
       ],
       "layer": [
        {"mark": {"type": "rect", "strokeWidth": 0.6},
         "encoding": {
          "x": {"field": "b0", "type": "quantitative", "scale": {"domain": [0, 2.5], "nice": false, "zero": false}, "axis": null},
          "x2": {"field": "b1"},
          "y": {"field": "y0", "type": "quantitative", "scale": {"domain": [0, 152.5], "nice": false, "zero": false},
                "axis": {"values": [20,40,60,80,100,120,140], "tickCount": 100, "labelExpr": "format(datum.value, 'd')", "labelFontSize": 18.5, "labelPadding": 10, "labelOverlap": false, "tickSize": -7, "zindex": 1, "title": "Top quark pairs", "titleFontSize": 25, "titleAngle": 270, "titleAlign": "right", "titleBaseline": "alphabetic", "titleX": -71, "titleY": 0}},
          "y2": {"field": "y1"},
          "color": {"field": "key", "type": "nominal",
                    "scale": {"domain": ["s","o","st","db","zt","zl","w","q","v"], "range": ["#cc0000","#ff6666","#ff00ff","#ffffff","#33ccff","#3366ff","#33cc33","#ffff00","#ffcc33"]},
                    "legend": null},
          "stroke": {"field": "key", "type": "nominal", "scale": {"domain": ["s","o","st","db","zt","zl","w","q","v"], "range": ["#cc0000","#ff6666","#ff00ff","#ffffff","#33ccff","#3366ff","#33cc33","#ffff00","#ffcc33"]}, "legend": null}
         }},
        {"mark": {"type": "line", "interpolate": "step-after", "color": "black", "strokeWidth": 1},
         "encoding": {"x": {"field": "b0", "type": "quantitative"}, "y": {"field": "y1", "type": "quantitative"}, "detail": {"field": "key"}}},
        {"mark": {"type": "rule", "color": "black", "strokeWidth": 1},
         "encoding": {"x": {"field": "b0", "type": "quantitative"}, "x2": {"field": "b1"}, "y": {"field": "y1", "type": "quantitative"}}}
       ]
      },
      {
       "data": {"name": "p5"},
       "transform": [{"filter": "isValid(datum.d)"}],
       "layer": [
        {"mark": {"type": "errorbar", "color": "black", "ticks": {"size": 6}},
         "encoding": {"x": {"field": "c", "type": "quantitative"}, "y": {"field": "d", "type": "quantitative"}, "yError": {"field": "de"}}},
        {"mark": {"type": "point", "filled": true, "color": "black", "size": 55, "opacity": 1},
         "encoding": {"x": {"field": "c", "type": "quantitative"},
                      "y": {"field": "d", "type": "quantitative", "axis": {"orient": "left", "values": [5,10,15,25,30,35,45,50,55,65,70,75,85,90,95,105,110,115,125,130,135,145,150], "tickCount": 100, "labels": false, "tickSize": -3.5, "zindex": 1, "title": null}}}}
       ]
      },
      {
       "data": {"values": [{}]},
       "layer": [
        {"mark": {"type": "text", "text": "p", "align": "left", "baseline": "alphabetic", "fontSize": 28}, "encoding": {"x": {"datum": 0.232, "type": "quantitative"}, "y": {"datum": 165.25, "type": "quantitative", "axis": null}}},
        {"mark": {"type": "text", "text": "T", "align": "left", "baseline": "alphabetic", "fontSize": 17}, "encoding": {"x": {"datum": 0.316, "type": "quantitative"}, "y": {"datum": 158.29, "type": "quantitative", "axis": null}}},
        {"mark": {"type": "text", "text": "(t) [400, 2000] \u00a0GeV", "align": "left", "baseline": "alphabetic", "fontSize": 28}, "encoding": {"x": {"datum": 0.372, "type": "quantitative"}, "y": {"datum": 165.25, "type": "quantitative", "axis": null}}},
        {"mark": {"type": "text", "text": "19.7 fb", "align": "left", "baseline": "alphabetic", "fontSize": 20}, "encoding": {"x": {"datum": 1.039, "type": "quantitative"}, "y": {"datum": 138.36, "type": "quantitative", "axis": null}}},
        {"mark": {"type": "text", "text": "-1", "align": "left", "baseline": "alphabetic", "fontSize": 13}, "encoding": {"x": {"datum": 1.393, "type": "quantitative"}, "y": {"datum": 141.61, "type": "quantitative", "axis": null}}},
        {"mark": {"type": "text", "text": "at √s = \u00a08 TeV", "align": "left", "baseline": "alphabetic", "fontSize": 20}, "encoding": {"x": {"datum": 1.485, "type": "quantitative"}, "y": {"datum": 138.36, "type": "quantitative", "axis": null}}}
       ]
      }
     ]
    },
    {
     "width": 445, "height": 114,
     "view": {"stroke": "black", "strokeWidth": 1.5},
     "resolve": {"axis": {"y": "independent", "x": "independent"}},
     "layer": [
      {"data": {"values": [{}]},
       "layer": [
        {"mark": {"type": "rule", "strokeDash": [1, 2], "color": "#333", "strokeWidth": 1}, "encoding": {"y": {"datum": 1, "type": "quantitative", "axis": {"orient": "right", "values": [0.5,0.75,1,1.25,1.5], "tickCount": 100, "labels": false, "tickSize": -7, "zindex": 1, "title": null}}}}
       ]},
      {"data": {"name": "p5"},
       "transform": [{"filter": "isValid(datum.r)"}],
       "layer": [
        {"mark": {"type": "errorbar", "color": "black", "ticks": {"size": 6}},
         "encoding": {"x": {"field": "c", "type": "quantitative"}, "y": {"field": "r", "type": "quantitative"}, "yError": {"field": "re"}}},
        {"mark": {"type": "point", "filled": true, "color": "black", "size": 55, "opacity": 1},
         "encoding": {
          "x": {"field": "c", "type": "quantitative", "scale": {"domain": [0, 2.5], "nice": false, "zero": false},
                "axis": {"values": [0,0.5,1,1.5,2,2.5], "tickCount": 100, "labelExpr": "format(datum.value, '~g')", "labelFlush": false, "labelOverlap": false, "labelFontSize": 18, "labelPadding": 8, "tickSize": -5, "zindex": 1, "title": "|y(t)|", "titleFontSize": 26, "titleAlign": "right", "titleBaseline": "alphabetic", "titleX": 439, "titleY": 50}},
          "y": {"field": "r", "type": "quantitative", "scale": {"domain": [0.5, 1.5], "nice": false, "zero": false, "clamp": true},
                "axis": {"orient": "left", "values": [0.5,0.75,1,1.25,1.5], "tickCount": 100, "format": "~g", "labelExpr": "datum.value == 0.75 || datum.value == 1.25 ? '' : datum.label", "labelFontSize": 13, "labelPadding": 16.5, "labelOverlap": false, "tickSize": -7, "zindex": 1, "title": null}}
         }}
       ]},
      {"data": {"values": [{}]},
       "layer": [
        {"mark": {"type": "text", "text": "N", "angle": 270, "align": "left", "baseline": "alphabetic", "fontSize": 20}, "encoding": {"x": {"datum": -0.4775, "type": "quantitative", "axis": {"orient": "bottom", "values": [0.1,0.2,0.3,0.4,0.6,0.7,0.8,0.9,1.1,1.2,1.3,1.4,1.6,1.7,1.8,1.9,2.1,2.2,2.3,2.4], "tickCount": 100, "labels": false, "tickSize": -2.5, "zindex": 1, "title": null}}, "y": {"datum": 0.798, "type": "quantitative", "axis": null}}},
        {"mark": {"type": "text", "text": "Data", "angle": 270, "align": "left", "baseline": "alphabetic", "fontSize": 14}, "encoding": {"x": {"datum": -0.4213, "type": "quantitative"}, "y": {"datum": 0.939, "type": "quantitative", "axis": null}}},
        {"mark": {"type": "rule", "color": "black", "strokeWidth": 1}, "encoding": {"x": {"datum": -0.3837, "type": "quantitative"}, "y": {"datum": 1.237, "type": "quantitative", "axis": null}, "y2": {"datum": 0.798}}},
        {"mark": {"type": "text", "text": "N", "angle": 270, "align": "left", "baseline": "alphabetic", "fontSize": 20}, "encoding": {"x": {"datum": -0.2961, "type": "quantitative"}, "y": {"datum": 0.798, "type": "quantitative", "axis": null}}},
        {"mark": {"type": "text", "text": "MC", "angle": 270, "align": "left", "baseline": "alphabetic", "fontSize": 14}, "encoding": {"x": {"datum": -0.2247, "type": "quantitative"}, "y": {"datum": 0.956, "type": "quantitative", "axis": null}}}
       ]}
     ]
    }
   ],
   "spacing": 0, "bounds": "flush"
  }
 ],
 "spacing": 0,
 "resolve": {"scale": {"color": "independent", "shape": "independent", "stroke": "independent"}}
}
]
}
